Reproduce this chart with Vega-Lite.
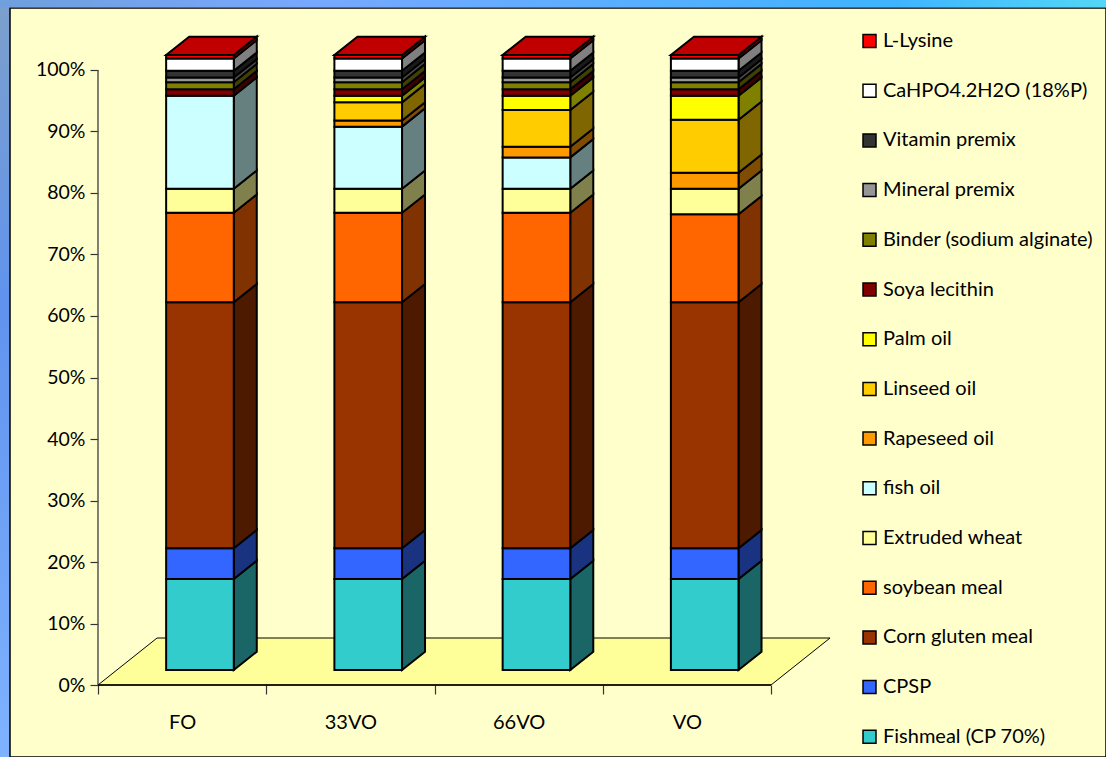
{
  "$schema": "https://vega.github.io/schema/vega-lite/v6.json",
  "autosize": "none",
  "width": 1096,
  "height": 749,
  "padding": {"left": 10, "top": 8, "right": 0, "bottom": 0},
  "background": "#62A4F4",
  "view": {"fill": "#FFFFCC", "stroke": "#000000", "strokeWidth": 1.5},
  "config": {"font": "Lato"},
  "datasets": {
    "diets": [
      {"diet": "FO", "order": 0, "ingredient": "Fishmeal (CP 70%)", "value": 14.8},
      {"diet": "FO", "order": 1, "ingredient": "CPSP", "value": 5},
      {"diet": "FO", "order": 2, "ingredient": "Corn gluten meal", "value": 40},
      {"diet": "FO", "order": 3, "ingredient": "soybean meal", "value": 14.55},
      {"diet": "FO", "order": 4, "ingredient": "Extruded wheat", "value": 3.9},
      {"diet": "FO", "order": 5, "ingredient": "fish oil", "value": 15.13},
      {"diet": "FO", "order": 9, "ingredient": "Soya lecithin", "value": 1.05},
      {"diet": "FO", "order": 10, "ingredient": "Binder (sodium alginate)", "value": 1.15},
      {"diet": "FO", "order": 11, "ingredient": "Mineral premix", "value": 0.75},
      {"diet": "FO", "order": 12, "ingredient": "Vitamin premix", "value": 1.1},
      {"diet": "FO", "order": 13, "ingredient": "CaHPO4.2H2O (18%P)", "value": 2},
      {"diet": "FO", "order": 14, "ingredient": "L-Lysine", "value": 0.57},
      {"diet": "33VO", "order": 0, "ingredient": "Fishmeal (CP 70%)", "value": 14.8},
      {"diet": "33VO", "order": 1, "ingredient": "CPSP", "value": 5},
      {"diet": "33VO", "order": 2, "ingredient": "Corn gluten meal", "value": 40},
      {"diet": "33VO", "order": 3, "ingredient": "soybean meal", "value": 14.55},
      {"diet": "33VO", "order": 4, "ingredient": "Extruded wheat", "value": 3.9},
      {"diet": "33VO", "order": 5, "ingredient": "fish oil", "value": 10.1},
      {"diet": "33VO", "order": 6, "ingredient": "Rapeseed oil", "value": 1},
      {"diet": "33VO", "order": 7, "ingredient": "Linseed oil", "value": 2.95},
      {"diet": "33VO", "order": 8, "ingredient": "Palm oil", "value": 1.08},
      {"diet": "33VO", "order": 9, "ingredient": "Soya lecithin", "value": 1.05},
      {"diet": "33VO", "order": 10, "ingredient": "Binder (sodium alginate)", "value": 1.15},
      {"diet": "33VO", "order": 11, "ingredient": "Mineral premix", "value": 0.75},
      {"diet": "33VO", "order": 12, "ingredient": "Vitamin premix", "value": 1.1},
      {"diet": "33VO", "order": 13, "ingredient": "CaHPO4.2H2O (18%P)", "value": 2},
      {"diet": "33VO", "order": 14, "ingredient": "L-Lysine", "value": 0.57},
      {"diet": "66VO", "order": 0, "ingredient": "Fishmeal (CP 70%)", "value": 14.8},
      {"diet": "66VO", "order": 1, "ingredient": "CPSP", "value": 5},
      {"diet": "66VO", "order": 2, "ingredient": "Corn gluten meal", "value": 40},
      {"diet": "66VO", "order": 3, "ingredient": "soybean meal", "value": 14.55},
      {"diet": "66VO", "order": 4, "ingredient": "Extruded wheat", "value": 3.9},
      {"diet": "66VO", "order": 5, "ingredient": "fish oil", "value": 5.1},
      {"diet": "66VO", "order": 6, "ingredient": "Rapeseed oil", "value": 1.73},
      {"diet": "66VO", "order": 7, "ingredient": "Linseed oil", "value": 5.97},
      {"diet": "66VO", "order": 8, "ingredient": "Palm oil", "value": 2.33},
      {"diet": "66VO", "order": 9, "ingredient": "Soya lecithin", "value": 1.05},
      {"diet": "66VO", "order": 10, "ingredient": "Binder (sodium alginate)", "value": 1.15},
      {"diet": "66VO", "order": 11, "ingredient": "Mineral premix", "value": 0.75},
      {"diet": "66VO", "order": 12, "ingredient": "Vitamin premix", "value": 1.1},
      {"diet": "66VO", "order": 13, "ingredient": "CaHPO4.2H2O (18%P)", "value": 2},
      {"diet": "66VO", "order": 14, "ingredient": "L-Lysine", "value": 0.57},
      {"diet": "VO", "order": 0, "ingredient": "Fishmeal (CP 70%)", "value": 14.8},
      {"diet": "VO", "order": 1, "ingredient": "CPSP", "value": 5},
      {"diet": "VO", "order": 2, "ingredient": "Corn gluten meal", "value": 40},
      {"diet": "VO", "order": 3, "ingredient": "soybean meal", "value": 14.3},
      {"diet": "VO", "order": 4, "ingredient": "Extruded wheat", "value": 4.15},
      {"diet": "VO", "order": 6, "ingredient": "Rapeseed oil", "value": 2.6},
      {"diet": "VO", "order": 7, "ingredient": "Linseed oil", "value": 8.62},
      {"diet": "VO", "order": 8, "ingredient": "Palm oil", "value": 3.91},
      {"diet": "VO", "order": 9, "ingredient": "Soya lecithin", "value": 1.05},
      {"diet": "VO", "order": 10, "ingredient": "Binder (sodium alginate)", "value": 1.15},
      {"diet": "VO", "order": 11, "ingredient": "Mineral premix", "value": 0.75},
      {"diet": "VO", "order": 12, "ingredient": "Vitamin premix", "value": 1.1},
      {"diet": "VO", "order": 13, "ingredient": "CaHPO4.2H2O (18%P)", "value": 2},
      {"diet": "VO", "order": 14, "ingredient": "L-Lysine", "value": 0.57}
    ]
  },
  "data": {"name": "diets"},
  "transform": [
    {"stack": "value", "groupby": ["diet"], "sort": [{"field": "order", "order": "ascending"}], "as": ["v0", "v1"]},
    {"calculate": "indexof(['FO','33VO','66VO','VO'], datum.diet)", "as": "slot"},
    {"calculate": "datum.slot + 0.405", "as": "left"},
    {"calculate": "datum.slot + 0.807", "as": "right"},
    {"calculate": "datum.v0 + 2.44", "as": "low"},
    {"calculate": "datum.v1 + 2.44", "as": "high"}
  ],
  "layer": [
    {
      "description": "Window frame strip along the top edge",
      "data": {"values": [{"band": "top"}]},
      "transform": [],
      "mark": {"type": "rect", "clip": false, "color": {"gradient": "linear", "x1": 0, "y1": 0, "x2": 1, "y2": 0, "stops": [{"offset": 0, "color": "#6F9FDC"}, {"offset": 0.28, "color": "#78A8FF"}, {"offset": 0.8, "color": "#3FB4FF"}, {"offset": 1, "color": "#55D8F5"}]}},
      "encoding": {
        "x": {"datum": -0.5825, "type": "quantitative", "scale": {"domain": [-0.52303, 5.99108], "nice": false, "zero": false}, "axis": null},
        "x2": {"datum": 6.05},
        "y": {"datum": 110.16, "type": "quantitative", "scale": {"domain": [-11.707, 110.081], "nice": false, "zero": false}, "axis": null},
        "y2": {"datum": 111.38}
      }
    },
    {
      "description": "Window frame strip along the left edge",
      "data": {"values": [{"band": "left"}]},
      "transform": [],
      "mark": {"type": "rect", "clip": false, "color": {"gradient": "linear", "x1": 0, "y1": 0, "x2": 0, "y2": 1, "stops": [{"offset": 0, "color": "#7C9FCC"}, {"offset": 0.4, "color": "#5F93EE"}, {"offset": 1, "color": "#7FB2FF"}]}},
      "encoding": {
        "x": {"datum": -0.5825, "type": "quantitative", "scale": {"domain": [-0.52303, 5.99108], "nice": false, "zero": false}, "axis": null},
        "x2": {"datum": -0.529},
        "y": {"datum": -11.71, "type": "quantitative", "scale": {"domain": [-11.707, 110.081], "nice": false, "zero": false}, "axis": null},
        "y2": {"datum": 110.16}
      }
    },
    {
      "description": "Chart floor with the percent axis ticks and labels",
      "data": {"values": [{"depth": 0}, {"depth": 1}]},
      "transform": [
        {"calculate": "datum.depth * 0.351", "as": "fx0"},
        {"calculate": "4 + datum.depth * 0.351", "as": "fx1"},
        {"calculate": "datum.depth * 7.64", "as": "fy"}
      ],
      "mark": {"type": "area", "orient": "horizontal", "fill": "#FFFF99", "stroke": "#000000", "strokeWidth": 1},
      "encoding": {
        "x": {"field": "fx0", "type": "quantitative", "scale": {"domain": [-0.52303, 5.99108], "nice": false, "zero": false}, "axis": null},
        "x2": {"field": "fx1"},
        "y": {
          "field": "fy",
          "type": "quantitative",
          "scale": {"domain": [-11.707, 110.081], "nice": false, "zero": false},
          "axis": {
            "orient": "left",
            "offset": -88,
            "values": [0, 10, 20, 30, 40, 50, 60, 70, 80, 90, 100],
            "labelExpr": "datum.value + '%'",
            "domain": false,
            "grid": false,
            "title": null,
            "tickSize": 8,
            "tickColor": "#333333",
            "tickWidth": 1.2,
            "labelFont": "Lato",
            "labelFontSize": 19.5,
            "labelColor": "#000000",
            "labelPadding": 5
          }
        }
      }
    },
    {
      "description": "Diet categories and the boundaries between them",
      "data": {"values": [{"diet": "FO"}]},
      "transform": [],
      "mark": {"type": "rule", "stroke": "#555555", "strokeWidth": 1.5},
      "encoding": {
        "x": {"datum": 0, "type": "quantitative", "scale": {"domain": [-0.52303, 5.99108], "nice": false, "zero": false}, "axis": {"orient": "bottom", "offset": -72, "values": [0, 1, 2, 3, 4], "labels": false, "domain": false, "grid": false, "title": null, "tickSize": 9, "tickColor": "#333333", "tickWidth": 1.2}},
        "y": {"datum": 0, "type": "quantitative", "scale": {"domain": [-11.707, 110.081], "nice": false, "zero": false}, "axis": null},
        "y2": {"datum": 100}
      }
    },
    {
      "data": {"values": [{"diet": "FO"}]},
      "transform": [],
      "mark": {"type": "rule", "stroke": "#000000", "strokeWidth": 1.5},
      "encoding": {
        "x": {"datum": 0, "type": "quantitative", "scale": {"domain": [-0.52303, 5.99108], "nice": false, "zero": false}, "axis": {"orient": "bottom", "offset": -72, "values": [0.5, 1.5, 2.5, 3.5], "labelExpr": "['FO','33VO','66VO','VO'][round(datum.value - 0.5)]", "domain": false, "grid": false, "title": null, "ticks": false, "labelFont": "Lato", "labelFontSize": 20, "labelColor": "#000000", "labelPadding": 27, "labelAngle": 0}},
        "x2": {"datum": 4},
        "y": {"datum": 0, "type": "quantitative", "scale": {"domain": [-11.707, 110.081], "nice": false, "zero": false}, "axis": null}
      }
    },
    {
      "description": "Shaded right-hand faces of every stacked segment",
      "transform": [
        {"calculate": "[0, 1]", "as": "depth"},
        {"flatten": ["depth"]},
        {"calculate": "datum.right + datum.depth * 0.1367", "as": "sx"},
        {"calculate": "datum.low + datum.depth * 2.976", "as": "sy0"},
        {"calculate": "datum.high + datum.depth * 2.976", "as": "sy1"}
      ],
      "mark": {"type": "area", "stroke": "#000000", "strokeWidth": 2},
      "encoding": {
        "x": {"field": "sx", "type": "quantitative", "scale": {"domain": [-0.52303, 5.99108], "nice": false, "zero": false}, "axis": null},
        "y": {"field": "sy0", "type": "quantitative", "scale": {"domain": [-11.707, 110.081], "nice": false, "zero": false}, "axis": null},
        "y2": {"field": "sy1"},
        "detail": {"field": "diet"},
        "color": {
          "field": "ingredient",
          "type": "nominal",
          "legend": null,
          "scale": {
            "domain": ["Fishmeal (CP 70%)", "CPSP", "Corn gluten meal", "soybean meal", "Extruded wheat", "fish oil", "Rapeseed oil", "Linseed oil", "Palm oil", "Soya lecithin", "Binder (sodium alginate)", "Mineral premix", "Vitamin premix", "CaHPO4.2H2O (18%P)", "L-Lysine"],
            "range": ["#1A6666", "#1A3380", "#4D1A00", "#803300", "#80804D", "#668080", "#804D00", "#806600", "#808000", "#400000", "#404000", "#4B4B4B", "#1A1A1A", "#808080", "#800000"]
          }
        }
      }
    },
    {
      "description": "Front faces of the stacked segments",
      "mark": {"type": "rect", "stroke": "#000000", "strokeWidth": 2},
      "encoding": {
        "x": {"field": "left", "type": "quantitative", "scale": {"domain": [-0.52303, 5.99108], "nice": false, "zero": false}, "axis": null},
        "x2": {"field": "right"},
        "y": {"field": "low", "type": "quantitative", "scale": {"domain": [-11.707, 110.081], "nice": false, "zero": false}, "axis": null},
        "y2": {"field": "high"},
        "color": {
          "field": "ingredient",
          "type": "nominal",
          "scale": {
            "domain": ["Fishmeal (CP 70%)", "CPSP", "Corn gluten meal", "soybean meal", "Extruded wheat", "fish oil", "Rapeseed oil", "Linseed oil", "Palm oil", "Soya lecithin", "Binder (sodium alginate)", "Mineral premix", "Vitamin premix", "CaHPO4.2H2O (18%P)", "L-Lysine"],
            "range": ["#33CCCC", "#3366FF", "#993300", "#FF6600", "#FFFF99", "#CCFFFF", "#FF9900", "#FFCC00", "#FFFF00", "#800000", "#808000", "#969696", "#333333", "#FFFFFF", "#FF0000"]
          },
          "legend": {
            "orient": "none",
            "legendX": 849.5,
            "legendY": 23,
            "title": null,
            "values": ["L-Lysine", "CaHPO4.2H2O (18%P)", "Vitamin premix", "Mineral premix", "Binder (sodium alginate)", "Soya lecithin", "Palm oil", "Linseed oil", "Rapeseed oil", "fish oil", "Extruded wheat", "soybean meal", "Corn gluten meal", "CPSP", "Fishmeal (CP 70%)"],
            "symbolType": "square",
            "symbolSize": 169,
            "symbolStrokeColor": "#000000",
            "symbolStrokeWidth": 1.5,
            "symbolOpacity": 1,
            "labelFont": "Lato",
            "labelFontSize": 20,
            "labelColor": "#000000",
            "labelOffset": 3.5,
            "labelLimit": 300,
            "rowPadding": 29.7,
            "padding": 0
          }
        }
      }
    },
    {
      "description": "Top face of each column",
      "transform": [
        {"filter": "datum.ingredient === 'L-Lysine'"},
        {"calculate": "[0, 1]", "as": "depth"},
        {"flatten": ["depth"]},
        {"calculate": "datum.left + datum.depth * 0.1367", "as": "tx0"},
        {"calculate": "datum.right + datum.depth * 0.1367", "as": "tx1"},
        {"calculate": "datum.high + datum.depth * 2.976", "as": "ty"}
      ],
      "mark": {"type": "area", "orient": "horizontal", "fill": "#C00000", "stroke": "#000000", "strokeWidth": 2},
      "encoding": {
        "x": {"field": "tx0", "type": "quantitative", "scale": {"domain": [-0.52303, 5.99108], "nice": false, "zero": false}, "axis": null},
        "x2": {"field": "tx1"},
        "y": {"field": "ty", "type": "quantitative", "scale": {"domain": [-11.707, 110.081], "nice": false, "zero": false}, "axis": null},
        "detail": {"field": "diet"}
      }
    }
  ],
  "resolve": {
    "scale": {"color": "independent"},
    "axis": {"x": "independent", "y": "independent"}
  }
}
